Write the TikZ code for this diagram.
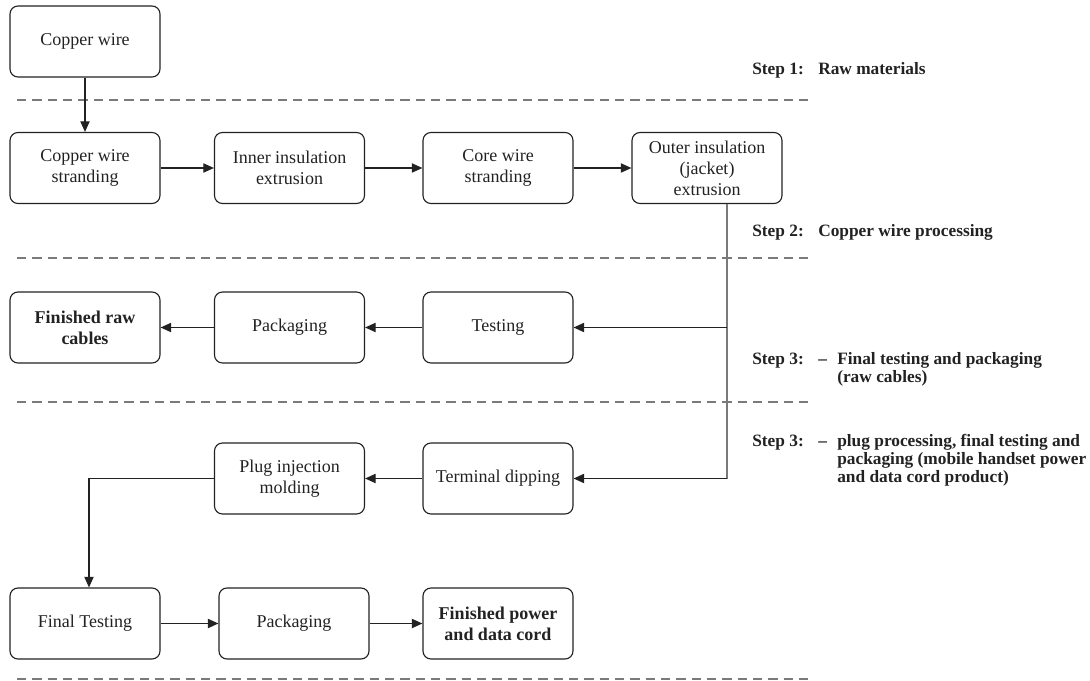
\documentclass[tikz,border=0pt]{standalone}
\usepackage{fontspec}
\setmainfont{Liberation Serif}
\usetikzlibrary{arrows.meta}
\definecolor{ink}{HTML}{222222}
\definecolor{rule}{HTML}{7A7A7A}
\newcommand{\toplines}[1]{\begin{tabular}[t]{@{}l@{}}#1\end{tabular}}
\tikzset{
  procbox/.style={draw=ink, line width=0.85pt, rounded corners=6pt,
    minimum width=112.5pt, minimum height=53.25pt, align=center,
    inner sep=2pt, text=ink, font=\fontsize{13.5}{15.75}\selectfont},
  endbox/.style={procbox, font=\fontsize{13.5}{15.75}\selectfont\bfseries},
  flow/.style={draw=ink, line width=0.9pt, -{Triangle[length=8pt,width=7pt]}},
  trunk/.style={draw=rule, line width=0.9pt},
  divider/.style={draw=rule, line width=0.8pt, dash pattern=on 7pt off 4.5pt},
  steplab/.style={inner sep=0pt, text=ink,
    font=\fontsize{13}{13.5}\selectfont\bfseries}
}
\begin{document}
\begin{tikzpicture}[x=0.75pt, y=-0.75pt]
\useasboundingbox (0,0) rectangle (1090,681);

% stage dividers
\foreach \yy/\nm in {100/d1, 258/d2, 402/d3, 679/d4}{
  \coordinate (\nm l) at (17,\yy);
  \coordinate (\nm r) at (813,\yy);
  \draw[divider] (\nm l) -- (\nm r);
}

% row 1: raw material
\node[procbox] (cw) at (85,41.5) {Copper wire};

% row 2: copper wire processing
\node[procbox] (cws)   at (85,168)    {Copper wire\\stranding};
\node[procbox] (inner) at (289.5,168) {Inner insulation\\extrusion};
\node[procbox] (core)  at (498,168)   {Core wire\\stranding};
\node[procbox] (outer) at (707,168)   {Outer insulation\\(jacket)\\extrusion};

% row 3: raw cables
\node[endbox]  (fin1)  at (85,327.5)    {Finished raw\\cables};
\node[procbox] (pack1) at (289.5,327.5) {Packaging};
\node[procbox] (test)  at (498,327.5)   {Testing};

% row 4: plug processing
\node[procbox] (plug) at (289.5,478.5) {Plug injection\\molding};
\node[procbox] (dip)  at (498,478.5)   {Terminal dipping};

% row 5: cord product
\node[procbox] (ft)    at (85,623.5)  {Final Testing};
\node[procbox] (pack2) at (294,623.5) {Packaging};
\node[endbox]  (fpc)   at (498,623.5) {Finished power\\and data cord};

% flow
\draw[flow] (cw) -- (cws);
\draw[flow] (cws) -- (inner);
\draw[flow] (inner) -- (core);
\draw[flow] (core) -- (outer);

\coordinate (j1) at (727,327.5);
\coordinate (j2) at (727,478.5);
\draw[trunk] (outer.south -| j1) -- (j2);
\draw[flow] (j1) -- (test);
\draw[flow] (j2) -- (dip);

\draw[flow] (test) -- (pack1);
\draw[flow] (pack1) -- (fin1);

\draw[flow] (dip) -- (plug);
\coordinate (bend) at (89,478.5);
\draw[flow] (plug.west) -- (bend) -- (bend |- ft.north);

\draw[flow] (ft) -- (pack2);
\draw[flow] (pack2) -- (fpc);

% stage labels
\node[steplab, anchor=base west] (s1)  at (752,75)  {Step 1:};
\node[steplab, anchor=base west] (s1t) at (818,75)  {Raw materials};
\node[steplab, anchor=base west] (s2)  at (752,237) {Step 2:};
\node[steplab, anchor=base west] (s2t) at (818,237) {Copper wire processing};
\node[steplab, anchor=base west] (s3)  at (752,364) {Step 3:};
\node[steplab, anchor=base west] (s3d) at (818,364) {--};
\node[steplab, anchor=base west] (s3t) at (837,364)
  {\toplines{Final testing and packaging\\(raw cables)}};
\node[steplab, anchor=base west] (s4)  at (752,446) {Step 3:};
\node[steplab, anchor=base west] (s4d) at (818,446) {--};
\node[steplab, anchor=base west] (s4t) at (837,446)
  {\toplines{plug processing, final testing and\\packaging (mobile handset power\\and data cord product)}};
\end{tikzpicture}
\end{document}
